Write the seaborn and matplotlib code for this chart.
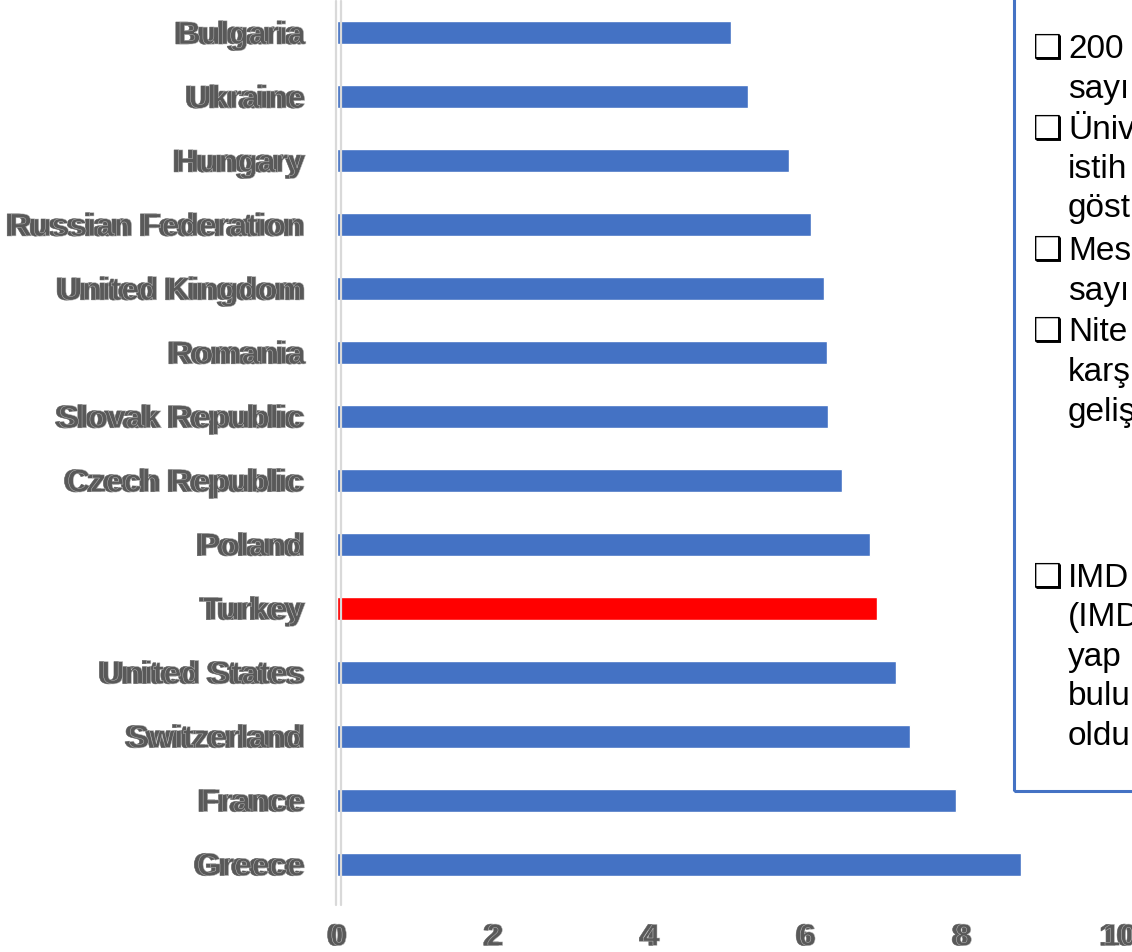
import numpy as np
import pandas as pd
import matplotlib
matplotlib.use("Agg")
import matplotlib.pyplot as plt
import matplotlib.patheffects as pe
import matplotlib.transforms as mtransforms
from matplotlib.patches import Rectangle
import seaborn as sns

# ---------------- data ----------------
countries = ["Bulgaria", "Ukraine", "Hungary", "Russian Federation", "United Kingdom",
             "Romania", "Slovak Republic", "Czech Republic", "Poland", "Turkey",
             "United States", "Switzerland", "France", "Greece"]
values = [5.05, 5.26, 5.79, 6.07, 6.23, 6.28, 6.29, 6.47, 6.82, 6.92,
          7.16, 7.34, 7.93, 8.76]
highlight = "Turkey"
x_ticks = [0, 2, 4, 6, 8, 10]
x_tick_labels = ["0", "2", "4", "6", "8", "10"]

box_lines = ["200", "sayı", "Üniv", "istih", "göst", "Mes", "sayı", "Nite",
             "karş", "geliş", "IMD", "(IMD", "yap", "bulu", "oldu"]
box_bullets = [True, False, True, False, False, True, False, True,
               False, False, True, False, False, False, False]
box_centers = [47, 87, 128, 167, 206, 249, 289, 330, 370, 410, 576, 615, 655, 694, 734]

# ---------------- style ----------------
sns.set_theme(style="white")
plt.rcParams["font.family"] = ["Liberation Sans", "DejaVu Sans"]

W, H = 1132, 953
fig = plt.figure(figsize=(W / 100, H / 100), dpi=100)
ax_left, ax_right, ax_top, ax_bottom = 337, 1118, 1.5, 897
ax = fig.add_axes([ax_left / W, 1 - ax_bottom / H, (ax_right - ax_left) / W,
                   (ax_bottom - ax_top) / H])

df = pd.DataFrame({"country": countries, "value": values})
palette = {c: ("#FF0000" if c == highlight else "#4472C4") for c in countries}
sns.barplot(data=df, x="value", y="country", hue="country", palette=palette,
            orient="h", width=0.36, legend=False, saturation=1, ax=ax)

ax.set_xlim(0, 10)
ax.set_ylim(len(countries) - 0.5, -0.5)
ax.set_xticks(x_ticks)
ax.set_xticklabels(x_tick_labels)
ax.set_xlabel("")
ax.set_ylabel("")
for s in ax.spines.values():
    s.set_visible(False)
ax.grid(False)
ax.tick_params(axis="x", length=0, pad=19)
ax.tick_params(axis="y", length=0, pad=24)

def doubled():
    return [pe.PathPatchEffect(offset=(-1.5, 0), facecolor="#595959", edgecolor="#595959", linewidth=0.4),
            pe.PathPatchEffect(offset=(1.5, 0), facecolor="#595959", edgecolor="#bdbdbd", linewidth=0.35)]

for lab in ax.get_yticklabels():
    lab.set_fontsize(23)
    lab.set_fontweight("bold")
    lab.set_color("#595959")
    lab.set_path_effects(doubled())
for lab in ax.get_xticklabels():
    lab.set_fontsize(22)
    lab.set_fontweight("bold")
    lab.set_color("#595959")
    lab.set_path_effects(doubled())

# doubled axis line at zero
blend = mtransforms.blended_transform_factory(ax.transData, ax.transAxes)
for dx in (-1.5, 3.5):
    tr = blend + mtransforms.ScaledTranslation(dx / 100, 0, fig.dpi_scale_trans)
    ax.plot([0, 0], [-0.01, 1], color="#D9D9D9", lw=1.6, transform=tr,
            clip_on=False, zorder=5)

# ---------------- text box on the right ----------------
box_x, box_y = 1014, 792
fig.patches.append(Rectangle((box_x / W, 1 - box_y / H), 0.5, 1.0,
                             transform=fig.transFigure, fill=False,
                             edgecolor="#4472C4", lw=2.2, zorder=1))
for txt, bul, yc in zip(box_lines, box_bullets, box_centers):
    yb = 1 - (yc + 11) / H
    if bul:
        fig.text(1033 / W, yb, "❑", fontsize=24, color="black",
                 family=["DejaVu Sans"], va="baseline", ha="left")
    fig.text(1068 / W, yb, txt, fontsize=24, color="black",
             family=["Liberation Sans", "DejaVu Sans"], va="baseline", ha="left")

fig.savefig("out.png", dpi=100)
